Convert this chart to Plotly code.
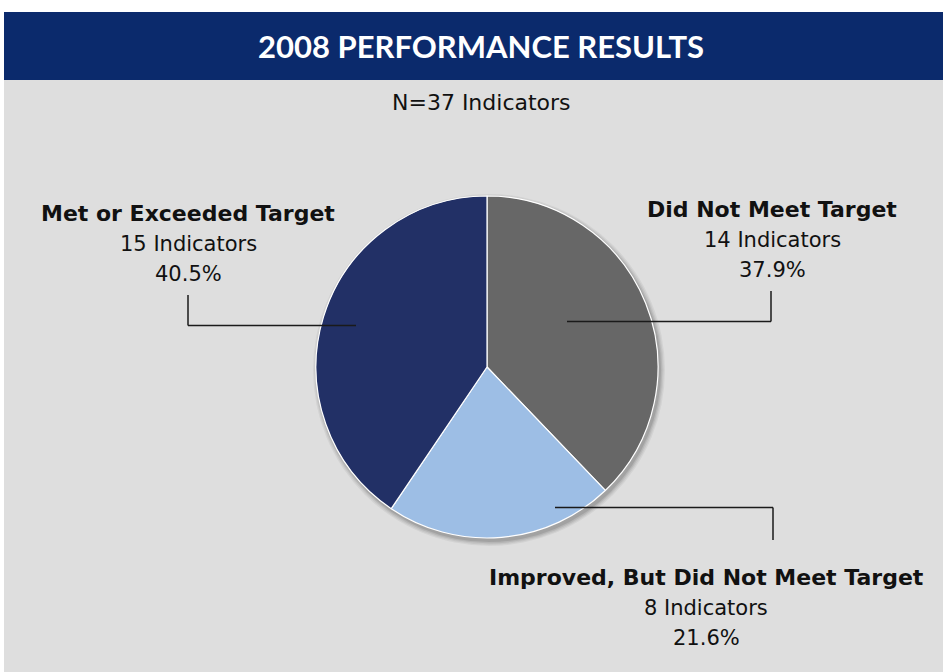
import plotly.graph_objects as go

# ---- data ----
categories = ["Did Not Meet Target", "Improved, But Did Not Meet Target", "Met or Exceeded Target"]
counts = [14, 8, 15]
percent_labels = ["37.9%", "21.6%", "40.5%"]
count_labels = ["14 Indicators", "8 Indicators", "15 Indicators"]
colors = ["#676767", "#9dbee5", "#223066"]
title_text = "2008 PERFORMANCE RESULTS"
subtitle_text = "N=37 Indicators"

W, H = 943, 672


def px(x):
    return x / W


def py(y):
    return 1 - y / H


FONT = "'DejaVu Sans', 'Open Sans', sans-serif"

fig = go.Figure()
fig.add_trace(go.Pie(
    labels=categories,
    values=counts,
    sort=False,
    direction="clockwise",
    rotation=0,
    marker=dict(colors=colors, line=dict(color="white", width=1.2)),
    textinfo="none",
    hoverinfo="skip",
    showlegend=False,
    domain=dict(x=[px(316), px(658)], y=[py(538), py(196)]),
))

shapes = [
    dict(type="rect", xref="paper", yref="paper", x0=0, x1=1, y0=py(12), y1=1,
         fillcolor="white", line=dict(width=0), layer="below"),
    dict(type="rect", xref="paper", yref="paper", x0=0, x1=px(4), y0=0, y1=1,
         fillcolor="white", line=dict(width=0), layer="below"),
    dict(type="rect", xref="paper", yref="paper", x0=px(4), x1=1, y0=py(80), y1=py(12),
         fillcolor="#0b2a6c", line=dict(width=0), layer="below"),
]

# soft shadow behind the pie
cx, cy, r = 487, 367, 171
for i, a in enumerate([0.05, 0.06, 0.08, 0.10]):
    rr = r + 5 - i * 1.3
    shapes.append(dict(type="circle", xref="paper", yref="paper",
                       x0=px(cx + 2 - rr), x1=px(cx + 2 + rr),
                       y0=py(cy + 3 + rr), y1=py(cy + 3 - rr),
                       fillcolor="rgba(0,0,0,%.2f)" % a, line=dict(width=0), layer="below"))

line_style = dict(color="#1a1a1a", width=1.5)
leaders = [
    [(567, 321.5), (771, 321.5), (771, 291)],
    [(555, 507.5), (773, 507.5), (773, 540)],
    [(356, 325.5), (188, 325.5), (188, 295)],
]
for pts in leaders:
    for (xa, ya), (xb, yb) in zip(pts[:-1], pts[1:]):
        shapes.append(dict(type="line", xref="paper", yref="paper",
                           x0=px(xa), y0=py(ya), x1=px(xb), y1=py(yb), line=line_style))

annotations = [
    dict(text="<b>" + title_text + "</b>", x=px(481), y=py(46),
         font=dict(family="Lato, sans-serif", size=31, color="white")),
    dict(text=subtitle_text, x=px(481), y=py(102), font=dict(family=FONT, size=22, color="#111")),
]

label_pos = [(772, 209), (706, 577), (188, 213)]
for (lx, ly), name, cnt, pct in zip(label_pos, categories, count_labels, percent_labels):
    annotations.append(dict(text="<b>" + name + "</b>", x=px(lx), y=py(ly),
                            font=dict(family=FONT, size=22, color="#111")))
    annotations.append(dict(text=cnt, x=px(lx), y=py(ly + 31),
                            font=dict(family=FONT, size=21, color="#111")))
    annotations.append(dict(text=pct, x=px(lx), y=py(ly + 61),
                            font=dict(family=FONT, size=21, color="#111")))

for a in annotations:
    a.update(xref="paper", yref="paper", showarrow=False, xanchor="center", yanchor="middle")

fig.update_layout(
    width=W, height=H,
    margin=dict(l=0, r=0, t=0, b=0),
    paper_bgcolor="#dedede",
    plot_bgcolor="#dedede",
    shapes=shapes,
    annotations=annotations,
)

fig.write_html("out.html", config={"displayModeBar": False},
               post_script="document.body.style.margin='0';document.body.style.padding='0';")
